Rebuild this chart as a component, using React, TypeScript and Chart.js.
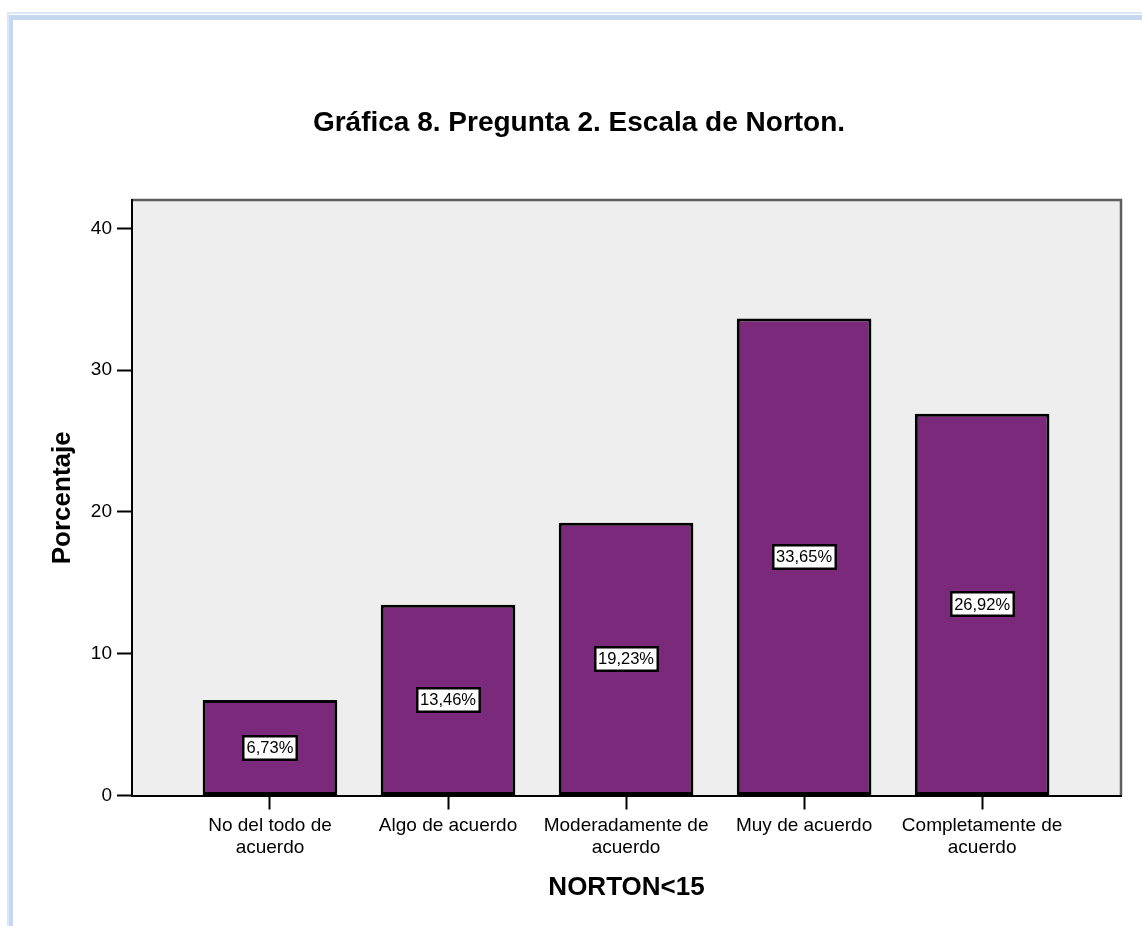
import React, { useEffect, useRef } from 'react';
import { Chart, registerables } from 'chart.js';

Chart.register(...registerables);

// Response categories (multi-line tick labels)
const categories: string[][] = [
  ['No del todo de', 'acuerdo'],
  ['Algo de acuerdo'],
  ['Moderadamente de', 'acuerdo'],
  ['Muy de acuerdo'],
  ['Completamente de', 'acuerdo'],
];
// Percentage of respondents per category
const percentages = [6.73, 13.46, 19.23, 33.65, 26.92];
const yTicks = [0, 10, 20, 30, 40];

const chartTitle = 'Gráfica 8. Pregunta 2. Escala de Norton.';
const xTitle = 'NORTON<15';
const yTitle = 'Porcentaje';

const FONT = '"Liberation Sans", Arial, Helvetica, sans-serif';
const BAR_COLOR = '#7b2a7b';
const PLOT_BG = '#eeeeee';

// Gray plot background plus the gray top/right edges of the plot frame
const plotFramePlugin = {
  id: 'plotFrame',
  beforeDraw(chart: any) {
    const { ctx, chartArea } = chart;
    const { left, right, top, bottom } = chartArea;
    ctx.save();
    ctx.fillStyle = PLOT_BG;
    ctx.fillRect(left, top, right - left, bottom - top);
    ctx.strokeStyle = '#5e5e5e';
    ctx.lineWidth = 2.5;
    ctx.beginPath();
    ctx.moveTo(left, top);
    ctx.lineTo(right, top);
    ctx.lineTo(right, bottom);
    ctx.stroke();
    ctx.restore();
  },
};

// Boxed percentage labels centred inside each bar
const valueLabelPlugin = {
  id: 'valueLabels',
  afterDatasetsDraw(chart: any) {
    const { ctx } = chart;
    const meta = chart.getDatasetMeta(0);
    ctx.save();
    ctx.font = `16.5px ${FONT}`;
    ctx.textAlign = 'center';
    ctx.textBaseline = 'middle';
    meta.data.forEach((bar: any, i: number) => {
      const { x, y, base } = bar.getProps(['x', 'y', 'base'], true);
      const cy = (y + base) / 2;
      const text = percentages[i].toFixed(2).replace('.', ',') + '%';
      const tw = ctx.measureText(text).width;
      const w = Math.round(tw + 9);
      const h = 26;
      const bx = Math.round(x - w / 2);
      const by = Math.round(cy - h / 2);
      ctx.fillStyle = '#ffffff';
      ctx.fillRect(bx, by, w, h);
      ctx.strokeStyle = '#000000';
      ctx.lineWidth = 2.5;
      ctx.strokeRect(bx + 1.25, by + 1.25, w - 2.5, h - 2.5);
      ctx.fillStyle = '#000000';
      ctx.fillText(text, x, cy + 1);
    });
    ctx.restore();
  },
};

export default function App() {
  const canvasRef = useRef<HTMLCanvasElement | null>(null);

  useEffect(() => {
    if (!canvasRef.current) return;
    const chart = new Chart(canvasRef.current, {
      type: 'bar',
      data: {
        datasets: [
          {
            data: percentages.map((v, i) => ({ x: i + 1, y: v })),
            backgroundColor: BAR_COLOR,
            borderColor: '#000000',
            borderWidth: 3,
            borderSkipped: false,
            barPercentage: 1,
            categoryPercentage: 0.756,
          },
        ],
      },
      options: {
        responsive: false,
        animation: false,
        devicePixelRatio: 1,
        layout: { padding: { left: 37, right: 21, top: 0, bottom: 0 } },
        plugins: {
          legend: { display: false },
          tooltip: { enabled: false },
          title: {
            display: true,
            text: chartTitle,
            color: '#000000',
            font: { family: FONT, size: 28, weight: 'bold', lineHeight: 1.2 },
            padding: { top: 106, bottom: 60.4 },
          },
        },
        scales: {
          x: {
            type: 'linear',
            offset: false,
            min: 0.225,
            max: 5.78,
            afterBuildTicks: (scale: any) => {
              scale.ticks = categories.map((_, i) => ({ value: i + 1 }));
            },
            afterFit: (scale: any) => {
              scale.height = 130.5;
            },
            ticks: {
              autoSkip: false,
              maxRotation: 0,
              minRotation: 0,
              padding: 5,
              color: '#000000',
              font: { family: FONT, size: 19, lineHeight: 1.16 },
              callback: (value: any) => categories[Math.round(Number(value)) - 1] ?? '',
            },
            grid: {
              display: true,
              offset: false,
              drawOnChartArea: false,
              drawTicks: true,
              tickLength: 14,
              tickWidth: 2,
              tickColor: '#000000',
            },
            border: { display: true, color: '#000000', width: 2 },
            title: {
              display: true,
              text: xTitle,
              color: '#000000',
              font: { family: FONT, size: 26, weight: 'bold', lineHeight: 1.2 },
              padding: { top: 0, bottom: 22.4 },
            },
          },
          y: {
            min: 0,
            max: 42,
            afterBuildTicks: (scale: any) => {
              scale.ticks = yTicks.map((v) => ({ value: v }));
            },
            afterFit: (scale: any) => {
              scale.width = 95;
            },
            ticks: {
              padding: 5,
              color: '#000000',
              font: { family: FONT, size: 19 },
            },
            grid: {
              display: true,
              drawOnChartArea: false,
              drawTicks: true,
              tickLength: 15,
              tickWidth: 2,
              tickColor: '#000000',
            },
            border: { display: true, color: '#000000', width: 2 },
            title: {
              display: true,
              text: yTitle,
              color: '#000000',
              font: { family: FONT, size: 26, weight: 'bold', lineHeight: 1.2 },
              padding: { top: 10.4, bottom: 0 },
            },
          },
        },
      },
      plugins: [plotFramePlugin, valueLabelPlugin],
    } as any);
    return () => chart.destroy();
  }, []);

  return (
    <div
      style={{
        position: 'fixed',
        left: 0,
        top: 0,
        width: 1142,
        height: 926,
        background: '#ffffff',
        overflow: 'hidden',
      }}
    >
      {/* light blue page frame, open to the right and bottom */}
      <div style={{ position: 'absolute', left: 7, top: 12, right: 0, height: 2, background: '#dce7f5' }} />
      <div style={{ position: 'absolute', left: 7, top: 12, bottom: 0, width: 2, background: '#dce7f5' }} />
      <div style={{ position: 'absolute', left: 9, top: 15, right: 0, height: 5, background: '#c6d8f0' }} />
      <div style={{ position: 'absolute', left: 9, top: 15, bottom: 0, width: 4, background: '#c6d8f0' }} />
      <canvas
        ref={canvasRef}
        width={1142}
        height={926}
        style={{ position: 'absolute', left: 0, top: 0, width: 1142, height: 926 }}
      />
    </div>
  );
}
